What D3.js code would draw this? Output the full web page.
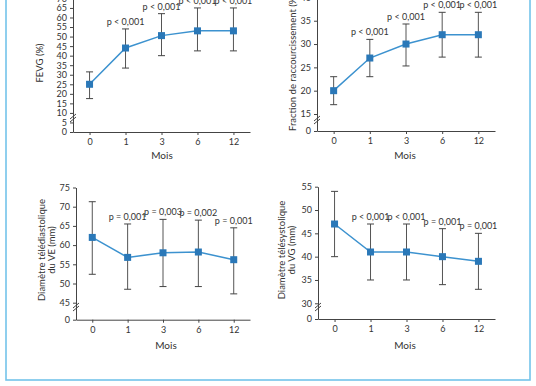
<!DOCTYPE html>
<html>
<head>
<meta charset="utf-8">
<script src="https://cdn.jsdelivr.net/npm/d3@7"></script>
<style>
  body { margin: 0; background: #fff; }
  svg text { font-family: Lato, "Open Sans", sans-serif; fill: #333; }
</style>
</head>
<body>
<svg id="main" width="536" height="386"></svg>
<script>
// Mois de suivi
const months = ["0", "1", "3", "6", "12"];

// FEVG (%)
const fevgMean = [25, 44, 50.5, 53, 53];
const fevgHigh = [31.5, 54, 62, 65, 65];
const fevgLow = [17.5, 33.5, 40, 42.5, 42.5];
const fevgP = ["", "p < 0,001", "p < 0,001", "p < 0,001", "p < 0,001"];
const fevgTicks = [0, 5, 10, 15, 20, 25, 30, 35, 40, 45, 50, 55, 60, 65, 70];

// Fraction de raccourcissement (%)
const fracMean = [20, 27, 30, 32, 32];
const fracHigh = [23, 31, 34.3, 36.8, 36.8];
const fracLow = [17, 23, 25.3, 27.2, 27.2];
const fracP = ["", "p < 0,001", "p < 0,001", "p < 0,001", "p < 0,001"];
const fracTicks = [0, 15, 20, 25, 30, 35, 40];

// Diamètre télédiastolique du VE (mm)
const dtdMean = [62, 56.8, 58, 58.2, 56.2];
const dtdHigh = [71.3, 65.5, 66.7, 66.5, 64.5];
const dtdLow = [52.4, 48.5, 49.2, 49.2, 47.3];
const dtdP = ["", "p = 0,001", "p = 0,003", "p = 0,002", "p = 0,001"];
const dtdTicks = [0, 45, 50, 55, 60, 65, 70, 75];

// Diamètre télésystolique du VG (mm)
const dtsMean = [47, 41, 41, 40, 39];
const dtsHigh = [54, 47, 47, 46, 45];
const dtsLow = [40, 35, 35, 34, 33];
const dtsP = ["", "p < 0,001", "p < 0,001", "p = 0,001", "p = 0,001"];
const dtsTicks = [0, 30, 35, 40, 45, 50, 55];

const svg = d3.select("#main");

// cadre bleu
svg.append("rect")
    .attr("x", 6).attr("y", -10)
    .attr("width", 524).attr("height", 390)
    .attr("fill", "none")
    .attr("stroke", "#74c4ea")
    .attr("stroke-width", 1.6);

const panels = [
    { mean: fevgMean, high: fevgHigh, low: fevgLow, p: fevgP, ticks: fevgTicks,
      yDom: [0, 70], yRange: [132, -1.6], ax: 73, axEnd: 250, breakY: 118,
      label: ["FEVG (%)"], lx: 40, ly: 63, moisX: 162, moisY: 159 },
    { mean: fracMean, high: fracHigh, low: fracLow, p: fracP, ticks: fracTicks,
      yDom: [0, 15, 40], yRange: [131, 114, -2.6], ax: 317, axEnd: 495, breakY: 120,
      label: ["Fraction de raccourcissement (%)"], lx: 293, ly: 131, anchor: "start",
      moisX: 405, moisY: 159 },
    { mean: dtdMean, high: dtdHigh, low: dtdLow, p: dtdP, ticks: dtdTicks,
      yDom: [0, 45, 75], yRange: [319.7, 302.7, 187.5], ax: 76, axEnd: 250, breakY: 307,
      label: ["Diamètre télédiastolique", "du VE (mm)"], lx: 42, ly: 250, moisX: 166, moisY: 349 },
    { mean: dtsMean, high: dtsHigh, low: dtsLow, p: dtsP, ticks: dtsTicks,
      yDom: [0, 30, 55], yRange: [319, 303.3, 186.7], ax: 318, axEnd: 495, breakY: 307,
      label: ["Diamètre télésystolique", "du VG (mm)"], lx: 281.5, ly: 250, moisX: 405, moisY: 349 },
];

panels.forEach(pn => {
    const g = svg.append("g");
    const y = d3.scaleLinear().domain(pn.yDom).range(pn.yRange);
    const x = d3.scalePoint().domain(months).range([pn.ax, pn.axEnd]).padding(0.46);
    const base = pn.yRange[0];

    // axes
    const yAxis = g.append("g")
        .attr("transform", `translate(${pn.ax},0)`)
        .call(d3.axisLeft(y).tickValues(pn.ticks).tickSize(3).tickSizeOuter(0).tickPadding(3));
    const xAxis = g.append("g")
        .attr("transform", `translate(0,${base})`)
        .call(d3.axisBottom(x).tickSize(3).tickSizeOuter(0).tickPadding(4));
    [yAxis, xAxis].forEach(a => {
        a.selectAll("path, line").attr("stroke", "#444").attr("stroke-width", 1);
        a.selectAll("text").attr("font-size", 9).attr("fill", "#333");
    });

    // cassure de l'axe
    [-1.5, 1.5].forEach(o => {
        g.append("line")
            .attr("x1", pn.ax - 3).attr("y1", pn.breakY + o + 2.5)
            .attr("x2", pn.ax + 3).attr("y2", pn.breakY + o - 2.5)
            .attr("stroke", "#444").attr("stroke-width", 1);
    });

    const rows = months.map((m, i) => ({ m, mean: pn.mean[i], high: pn.high[i], low: pn.low[i], p: pn.p[i] }));

    // barres d'erreur
    const eb = g.selectAll(".eb").data(rows).enter().append("g").classed("eb", true);
    eb.append("line")
        .attr("x1", d => x(d.m)).attr("x2", d => x(d.m))
        .attr("y1", d => y(d.high)).attr("y2", d => y(d.low))
        .attr("stroke", "#555").attr("stroke-width", 1);
    ["high", "low"].forEach(k => {
        eb.append("line")
            .attr("x1", d => x(d.m) - 3.5).attr("x2", d => x(d.m) + 3.5)
            .attr("y1", d => y(d[k])).attr("y2", d => y(d[k]))
            .attr("stroke", "#444").attr("stroke-width", 1);
    });

    // courbe
    g.append("path")
        .datum(rows)
        .attr("d", d3.line().x(d => x(d.m)).y(d => y(d.mean)))
        .attr("fill", "none")
        .attr("stroke", "#3c92cf")
        .attr("stroke-width", 1.5);

    g.selectAll(".pt").data(rows).enter().append("rect")
        .classed("pt", true)
        .attr("x", d => x(d.m) - 3.5).attr("y", d => y(d.mean) - 3.5)
        .attr("width", 7).attr("height", 7)
        .attr("fill", "#2a78b8");

    // valeurs de p
    g.selectAll(".pv").data(rows.filter(d => d.p)).enter().append("text")
        .classed("pv", true)
        .attr("x", d => x(d.m)).attr("y", d => y(d.high) - 4)
        .attr("text-anchor", "middle")
        .attr("font-size", 9)
        .text(d => d.p);

    // titres
    g.append("text")
        .attr("x", pn.moisX).attr("y", pn.moisY)
        .attr("text-anchor", "middle").attr("font-size", 10)
        .text("Mois");

    const lab = g.append("text")
        .attr("transform", `translate(${pn.lx},${pn.ly}) rotate(-90)`)
        .attr("text-anchor", pn.anchor || "middle")
        .attr("font-size", 9.5);
    pn.label.forEach((t, i) => {
        lab.append("tspan").attr("x", 0).attr("dy", i === 0 ? 3 : 10).text(t);
    });
});
</script>
</body>
</html>
